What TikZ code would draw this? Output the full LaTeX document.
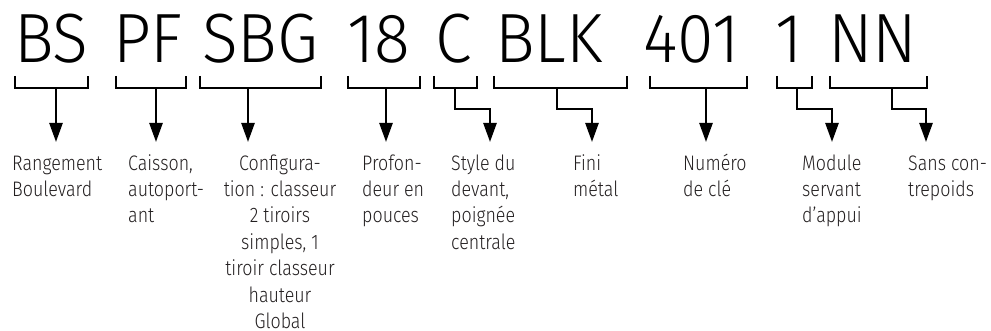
\documentclass[tikz,border=0pt]{standalone}
\usepackage{fontspec}
\usetikzlibrary{arrows.meta}
\newfontfamily\bigf[FakeStretch=0.95]{Fira Sans Light}
\newfontfamily\labf[FakeStretch=0.85]{Fira Sans Light}
\definecolor{ink}{RGB}{35,31,32}
\tikzset{
  code/.style={inner sep=0pt, anchor=base west, text=black, font=\bigf\fontsize{69.7}{70}\selectfont},
  lab/.style={inner sep=0pt, anchor=north west, align=left, text=ink, font=\labf\fontsize{21}{26.4}\selectfont},
  labc/.style={lab, anchor=north, align=center},
  brk/.style={line width=2.5pt, line cap=butt, line join=miter},
  arr/.style={brk, -{Triangle[length=19pt,width=13pt]}}
}
\begin{document}
\begin{tikzpicture}[x=1pt,y=-1pt]
\useasboundingbox (0,0) rectangle (991,331);
% codes
\node[code] (bs)  at (14,63)  {BS};
\node[code] (pf)  at (113,63) {PF};
\node[code] (sbg) at (202,63) {SBG};
\node[code] (d18) at (347,63) {18};
\node[code] (c)   at (435,63) {C};
\node[code] (blk) at (495,63) {BLK};
\node[code] (k401) at (643,63) {401};
\node[code] (one) at (775,63) {1};
\node[code] (nn)  at (828,63) {NN};
% labels
\def\ly{151.5}
\node[lab]  (lbs)  at (12,\ly)  {\strut Rangement\\Boulevard};
\node[lab]  (lpf)  at (128,\ly) {\strut Caisson,\\autoport-\\ant};
\node[labc] (lsbg) at (280,\ly) {\strut Configura-\\tion : classeur\\2 tiroirs\\simples, 1\\tiroir classeur\\hauteur\\Global};
\node[lab]  (l18)  at (362,\ly) {\strut Profon-\\deur en\\pouces};
\node[lab]  (lc)   at (451,\ly) {\strut Style du\\devant,\\poignée\\centrale};
\node[lab]  (lblk) at (573,\ly) {\strut Fini\\métal};
\node[lab]  (l401) at (683,\ly) {\strut Numéro\\de clé};
\node[lab]  (lone) at (802,\ly) {\strut Module\\servant\\d’appui};
\node[lab]  (lnn)  at (908,\ly) {\strut Sans con-\\trepoids};
% bracket coordinates
\def\yt{76}\def\yb{88}\def\ys{109}\def\ya{142}
\foreach \n/\a/\b/\s/\t in {bs/15/88/56/56, pf/116/186/156/156, sbg/200/321/248/248,
  d18/348/420/386/386, c/434/477/455/490, blk/494/627/557/592, k401/650/747/706/706,
  one/777/812/797/832, nn/830/927/892/926}{
  \coordinate (\n L) at (\a,\yt);
  \coordinate (\n R) at (\b,\yt);
  \coordinate (\n S) at (\s,\yb);
  \coordinate (\n T) at (\t,\ya);
  \draw[brk] (\n L) -- (\n L |- \n S) -- (\n R |- \n S) -- (\n R);
  \ifdim \s pt=\t pt
    \draw[arr] (\n S) -- (\n T);
  \else
    \draw[arr] (\n S) -- (\s,\ys) -| (\n T);
  \fi
}
\end{tikzpicture}
\end{document}
